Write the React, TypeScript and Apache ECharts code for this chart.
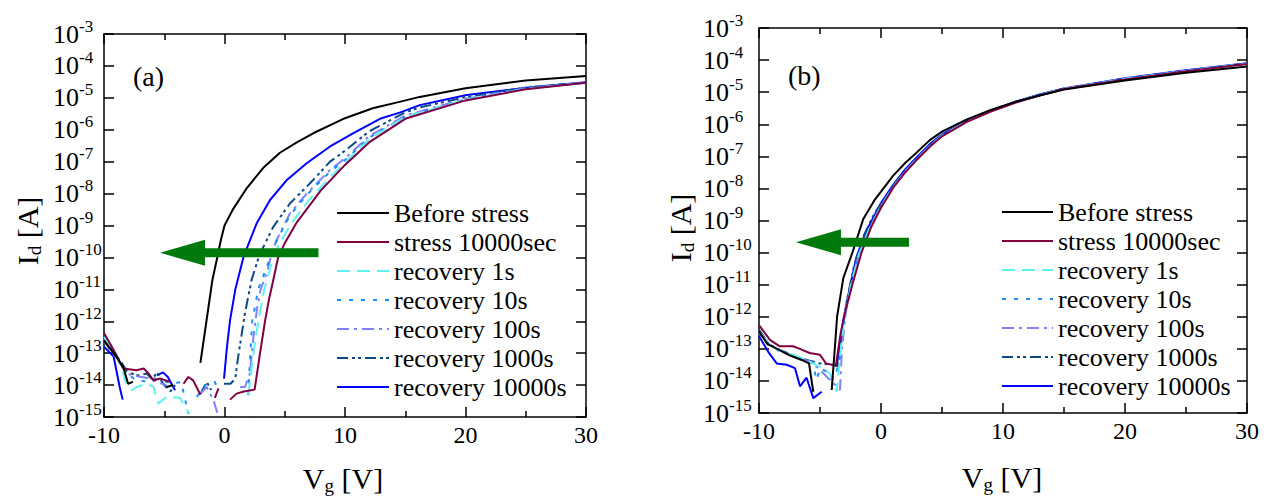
import React, { useEffect, useRef } from "react";
import * as echarts from "echarts";

type Pt = [number, number | null];

const FONT = "'Liberation Serif', 'Times New Roman', serif";

const seriesNames = [
  "Before stress",
  "stress 10000sec",
  "recovery 1s",
  "recovery 10s",
  "recovery 100s",
  "recovery 1000s",
  "recovery 10000s",
];
const seriesColors = ["#000000", "#800040", "#5ff2f2", "#1a8cff", "#8080ff", "#0d4a85", "#0000ff"];
const seriesDash: any[] = ["solid", "solid", [13, 7], [4, 8], [12, 5, 3, 5], [11, 4, 3, 3, 3, 4], "solid"];

const xTicks = { min: -10, max: 30, step: 10 };
const yRange = { min: 1e-15, max: 1e-3 };
// decade exponents used for the tick labels 10^n
const yExpTicks = { min: -15, max: -3, step: 1 };

// ---------- panel (a) ----------
const aBefore: Pt[] = [
  [-10, 2.5e-13], [-9.2, 1.0e-13], [-8.4, 3.7e-14], [-8.0, 1.1e-14], [-7.6, 1.26e-14], [-7.3, null],
  [-4.8, 8.7e-15], [-4.25, 1.0e-14], [-4.0, null],
  [-2.0, 5.0e-14], [-1.5, 1.0e-12], [-1.0, 2.0e-11], [-0.6, 1.0e-10], [-0.3, 3.5e-10], [0, 1.0e-9],
  [0.7, 3.2e-9], [1.8, 1.4e-8], [3.2, 6.3e-8], [4.6, 1.9e-7], [6.0, 4.0e-7], [7.4, 7.9e-7],
  [10, 2.3e-6], [12.3, 4.7e-6], [14.6, 7.6e-6], [16.2, 1.07e-5], [20, 2.0e-5], [25, 3.5e-5], [30, 4.8e-5],
];
const aStress: Pt[] = [
  [-10, 4.3e-13], [-9.2, 1.26e-13], [-8.4, 3.3e-14], [-7.3, 2.9e-14], [-6.7, 3.3e-14], [-6.3, 2.3e-14],
  [-5.9, 1.4e-14], [-5.35, 1.6e-14], [-4.5, 1.26e-14], [-4.0, null],
  [-3.4, 1.1e-14], [-3.0, 1.8e-14], [-2.6, 1.4e-14], [-2.0, 5.0e-15], [-1.5, null],
  [-0.8, 4.0e-15], [-0.5, 7.9e-15], [0, null],
  [0.46, 3.5e-15], [1.0, 5.4e-15], [1.6, 6.3e-15], [2.5, 7.2e-15], [2.95, 1.0e-13], [3.36, 1.0e-12],
  [3.7, 5.0e-12], [4.0, 1.6e-11], [4.45, 1.0e-10], [5.0, 2.8e-10], [6.0, 1.26e-9], [8.0, 1.26e-8],
  [10, 7.9e-8], [12, 4.0e-7], [15, 2.2e-6], [20, 8.3e-6], [25, 1.86e-5], [30, 2.95e-5],
];
const aRec1: Pt[] = [
  [-10, 3.2e-13], [-9.1, 1.26e-13], [-8.5, 3.2e-14], [-8.26, 1.4e-14], [-7.7, 6.9e-15], [-7.3, 8.7e-15],
  [-6.5, 1.1e-14], [-5.9, 9.0e-15], [-5.5, 2.6e-15], [-4.8, 4.3e-15], [-3.7, 4.0e-15], [-2.9, 1.26e-15], [-2.5, null],
  [1.98, 5.0e-15], [2.4, 1.0e-13], [2.8, 1.0e-12], [3.3, 1.0e-11], [4.05, 1.0e-10], [4.5, 2.5e-10],
  [5.5, 1.1e-9], [7.0, 6.3e-9], [9.0, 4.0e-8], [10, 9.5e-8], [12, 5.0e-7], [15, 2.5e-6], [20, 8.7e-6],
  [25, 1.9e-5], [30, 2.95e-5],
];
const aRec10: Pt[] = [
  [-10, 3.2e-13], [-8.95, 7.9e-14], [-8.1, 2.3e-14], [-7.3, 1.4e-14], [-6.5, 1.3e-14], [-5.8, 1.6e-14],
  [-4.25, 1.1e-14], [-3.6, 1.26e-14], [-3.0, 1.26e-15], [-2.6, null],
  [-2.3, 4.3e-15], [-1.5, 1.1e-14], [-0.8, 1.26e-14], [-0.5, 6.0e-15], [0, null],
  [1.98, 4.8e-15], [2.1, 5.0e-14], [2.3, 1.0e-12], [2.8, 1.0e-11], [3.8, 1.0e-10], [4.3, 3.2e-10],
  [5.4, 2.0e-9], [6.8, 8.9e-9], [8.8, 5.0e-8], [10, 1.12e-7], [12, 5.6e-7], [15, 2.6e-6], [20, 8.9e-6],
  [25, 1.95e-5], [30, 3.0e-5],
];
const aRec100: Pt[] = [
  [-10, 2.5e-13], [-8.95, 6.8e-14], [-8.1, 2.3e-14], [-7.5, 2.0e-14], [-6.2, 1.6e-14], [-5.5, 1.2e-14],
  [-4.8, 1.0e-14], [-4.3, null],
  [-2.0, 5.4e-15], [-1.48, 8.7e-15], [-0.9, 3.3e-15], [-0.5, 1.0e-15], [0, null],
  [1.3, 8.7e-15], [1.7, 8.7e-15], [2.1, 2.3e-14], [2.4, 3.2e-13], [2.7, 2.5e-12], [3.0, 1.0e-11],
  [3.5, 3.2e-11], [3.9, 1.26e-10], [4.33, 3.5e-10], [5.43, 2.4e-9], [6.82, 1.0e-8], [8.76, 5.5e-8],
  [10, 1.26e-7], [12, 6.3e-7], [15, 2.8e-6], [20, 9.3e-6], [25, 2.0e-5], [30, 3.0e-5],
];
const aRec1000: Pt[] = [
  [-10, 2.5e-13], [-9.5, 1.3e-13], [-8.7, 6.3e-14], [-8.1, 2.7e-14], [-7.3, 2.0e-14], [-6.45, 2.3e-14],
  [-6.0, 1.5e-14], [-5.6, 2.5e-14], [-5.1, 1.1e-14], [-4.5, 6.3e-15], [-4.1, 1.0e-14], [-3.8, null],
  [-2.0, 5.2e-15], [-1.48, 1.26e-14], [-1.1, 7.0e-15], [-0.8, null],
  [-0.04, 1.1e-14], [0.5, 1.1e-14], [0.9, 1.6e-14], [1.1, 6.3e-14], [1.7, 1.8e-12], [2.25, 2.0e-11],
  [2.9, 1.2e-10], [4.05, 9.1e-10], [5.43, 4.9e-9], [7.1, 2.1e-8], [8.76, 1.0e-7], [10, 2.2e-7],
  [12, 8.9e-7], [15, 3.5e-6], [16.2, 5.0e-6], [20, 1.05e-5], [25, 2.1e-5], [30, 3.0e-5],
];
const aRec10000: Pt[] = [
  [-10, 1.6e-13], [-9.2, 7.9e-14], [-8.7, 8.7e-15], [-8.45, 3.5e-15], [-8.0, null],
  [-5.6, 2.0e-14], [-5.1, 2.5e-14], [-4.7, 1.8e-14], [-4.1, 6.9e-15], [-3.5, null],
  [-0.04, 1.6e-14], [0.2, 1.5e-13], [0.46, 1.07e-12], [0.9, 1.0e-11], [1.6, 1.1e-10], [2.67, 1.17e-9],
  [3.78, 6.3e-9], [5.15, 2.6e-8], [6.82, 8.9e-8], [8.76, 3.0e-7], [10.7, 7.8e-7], [12.9, 2.2e-6],
  [14.6, 3.5e-6], [16.2, 5.9e-6], [20.1, 1.23e-5], [25.6, 2.2e-5], [30, 3.1e-5],
];

// ---------- panel (b) ----------
const bBefore: Pt[] = [
  [-10, 3.5e-13], [-9.3, 1.4e-13], [-8.5, 1.0e-13], [-7.5, 6.3e-14], [-6.5, 4.5e-14], [-5.9, 3.5e-14],
  [-5.55, 4.6e-15], [-5.3, null],
  [-4.04, 5.2e-15], [-3.75, 1.6e-13], [-3.6, 1.0e-12], [-3.09, 1.6e-11], [-2.3, 1.12e-10], [-1.45, 1.12e-9],
  [-0.5, 4.5e-9], [0, 7.9e-9], [1, 2.5e-8], [2, 6.3e-8], [3, 1.4e-7], [4, 3.2e-7], [5, 5.9e-7], [7, 1.4e-6],
  [9, 2.8e-6], [11, 5.0e-6], [13, 7.9e-6], [15, 1.2e-5], [20, 2.3e-5], [25, 4.0e-5], [30, 6.3e-5],
];
const bStress: Pt[] = [
  [-10, 5.5e-13], [-9.1, 1.9e-13], [-8.3, 1.2e-13], [-7.2, 1.2e-13], [-6.65, 1.0e-13], [-5.85, 7.4e-14],
  [-5.0, 6.5e-14], [-4.5, 3.5e-14], [-3.7, 3.0e-14], [-3.3, 3.2e-13], [-2.9, 1.6e-12], [-2.35, 1.0e-11],
  [-1.6, 1.0e-10], [-0.8, 6.3e-10], [0, 2.5e-9], [1, 1.05e-8], [2, 3.2e-8], [3, 8.3e-8], [4, 2.0e-7],
  [5, 4.2e-7], [7, 1.17e-6], [9, 2.5e-6], [11, 4.7e-6], [13, 7.9e-6], [15, 1.26e-5], [20, 2.5e-5],
  [25, 4.5e-5], [30, 7.6e-5],
];
const bRec1: Pt[] = [
  [-10, 3.5e-13], [-9.2, 1.4e-13], [-8.3, 9.0e-14], [-7.2, 6.5e-14], [-6.1, 4.5e-14], [-5.0, 2.75e-14],
  [-4.18, 1.7e-14], [-3.63, 4.6e-15], [-3.4, 4.0e-14], [-3.0, 1.0e-12], [-2.45, 1.0e-11], [-1.85, 7.9e-11],
  [-1.0, 5.0e-10], [0, 2.8e-9], [1, 1.1e-8], [2, 3.4e-8], [3, 8.7e-8], [4, 2.1e-7], [5, 4.4e-7],
  [7, 1.2e-6], [9, 2.6e-6], [11, 4.8e-6], [13, 8.1e-6], [15, 1.28e-5], [20, 2.6e-5], [25, 4.6e-5], [30, 7.7e-5],
];
const bRec10: Pt[] = [
  [-10, 3.2e-13], [-9.2, 1.3e-13], [-8.3, 8.5e-14], [-7.2, 6.0e-14], [-6.1, 4.2e-14], [-5.6, 3.5e-14],
  [-5.27, 1.07e-14], [-5.0, 2.5e-14], [-4.5, 2.0e-14], [-4.0, 1.07e-14], [-3.7, 1.5e-14], [-3.4, 5.0e-14],
  [-3.0, 1.1e-12], [-2.45, 1.1e-11], [-1.85, 8.5e-11], [-1.0, 5.2e-10], [0, 2.9e-9], [1, 1.1e-8],
  [2, 3.5e-8], [3, 8.8e-8], [4, 2.1e-7], [5, 4.4e-7], [7, 1.2e-6], [9, 2.6e-6], [11, 4.8e-6],
  [13, 8.2e-6], [15, 1.29e-5], [20, 2.6e-5], [25, 4.7e-5], [30, 7.8e-5],
];
const bRec100: Pt[] = [
  [-10, 3.2e-13], [-9.0, 1.3e-13], [-8.0, 8.0e-14], [-7.0, 5.5e-14], [-5.8, 4.0e-14], [-5.0, 2.2e-14],
  [-4.18, 1.07e-14], [-3.63, 6.8e-15], [-3.36, 5.2e-15], [-3.2, 1.0e-13], [-2.9, 1.26e-12], [-2.4, 1.1e-11],
  [-1.85, 8.0e-11], [-1.0, 5.0e-10], [0, 2.8e-9], [1, 1.1e-8], [2, 3.4e-8], [3, 8.7e-8], [4, 2.1e-7],
  [5, 4.4e-7], [7, 1.2e-6], [9, 2.6e-6], [11, 4.8e-6], [13, 8.1e-6], [15, 1.28e-5], [20, 2.6e-5],
  [25, 4.6e-5], [30, 7.7e-5],
];
const bRec1000: Pt[] = [
  [-10, 4.0e-13], [-9.2, 1.4e-13], [-8.28, 9.1e-14], [-7.2, 6.3e-14], [-6.1, 4.5e-14], [-5.0, 3.5e-14],
  [-3.9, 3.2e-14], [-3.5, 2.8e-14], [-3.2, 2.5e-13], [-2.8, 3.2e-12], [-2.2, 4.0e-11], [-1.4, 3.5e-10],
  [-0.5, 1.8e-9], [0, 3.2e-9], [1, 1.2e-8], [2, 3.6e-8], [3, 9.1e-8], [4, 2.2e-7], [5, 4.5e-7],
  [7, 1.2e-6], [9, 2.6e-6], [11, 4.9e-6], [13, 8.3e-6], [15, 1.3e-5], [20, 2.6e-5], [25, 4.7e-5], [30, 7.8e-5],
];
const bRec10000: Pt[] = [
  [-10, 2.5e-13], [-9.23, 7.9e-14], [-8.55, 3.5e-14], [-7.73, 3.2e-14], [-7.05, 2.5e-14], [-6.64, 6.8e-15],
  [-6.1, 1.26e-14], [-5.55, 2.9e-15], [-4.86, 4.6e-15], [-4.6, null],
  [-3.63, 2.75e-14], [-3.09, 7.9e-13], [-2.54, 8.7e-12], [-2.0, 7.4e-11], [-1.17, 5.0e-10], [0, 3.5e-9],
  [1, 1.3e-8], [2, 4.0e-8], [3, 1.0e-7], [4, 2.4e-7], [5, 4.8e-7], [7, 1.26e-6], [9, 2.7e-6], [11, 5.0e-6],
  [13, 8.5e-6], [15, 1.3e-5], [20, 2.7e-5], [25, 4.8e-5], [30, 7.9e-5],
];

const panelA = [aBefore, aStress, aRec1, aRec10, aRec100, aRec1000, aRec10000];
const panelB = [bBefore, bStress, bRec1, bRec10, bRec100, bRec1000, bRec10000];

// arrows (data coordinates: tail V, tip V, current level)
const arrowA = { tailV: 7.8, tipV: -5.35, current: 1.4e-10 };
const arrowB = { tailV: 2.3, tipV: -6.97, current: 2.1e-10 };

const grids = [
  { left: 104, top: 34, width: 482, height: 383 },
  { left: 759, top: 28, width: 488, height: 385 },
];

const axisLineStyle = { color: "#000", width: 1.5 };

function makeX(gridIndex: number, position: "bottom" | "top") {
  return {
    gridIndex,
    type: "value",
    min: xTicks.min,
    max: xTicks.max,
    interval: xTicks.step,
    position,
    axisLine: { show: true, onZero: false, lineStyle: axisLineStyle },
    axisTick: { show: true, inside: true, length: 10, lineStyle: axisLineStyle },
    minorTick: { show: true, splitNumber: 2, length: 6, lineStyle: axisLineStyle },
    splitLine: { show: false },
    minorSplitLine: { show: false },
    axisLabel: {
      show: position === "bottom",
      margin: 6,
      fontSize: 24,
      fontFamily: FONT,
      color: "#000",
    },
  };
}

// log axis that carries the data (drawn invisibly; decade ticks come from the companion axes)
function makeLogY(gridIndex: number) {
  return {
    gridIndex,
    type: "log",
    logBase: 10,
    min: yRange.min,
    max: yRange.max,
    position: "left",
    show: false,
  };
}

// decade tick / label axis in exponent units, sharing the same pixel span
function makeDecadeY(gridIndex: number, position: "left" | "right", margin: number) {
  return {
    gridIndex,
    type: "value",
    min: yExpTicks.min,
    max: yExpTicks.max,
    interval: yExpTicks.step,
    position,
    axisLine: { show: true, onZero: false, lineStyle: axisLineStyle },
    axisTick: { show: true, inside: true, length: 10, lineStyle: axisLineStyle },
    splitLine: { show: false },
    axisLabel: {
      show: position === "left",
      align: "left",
      margin,
      formatter: (v: number) => `{b|10}{e|${v}}`,
      rich: {
        b: { fontSize: 26, fontFamily: FONT, color: "#000" },
        e: { fontSize: 17, fontFamily: FONT, color: "#000", padding: [0, 0, 16, 0] },
      },
    },
  };
}

function makeLegend(left: number, top: number, itemWidth: number) {
  return {
    data: seriesNames,
    orient: "vertical",
    left,
    top,
    padding: 0,
    itemWidth,
    itemHeight: 14,
    itemGap: 3,
    selectedMode: false,
    itemStyle: { opacity: 0 },
    textStyle: { fontSize: 26, fontFamily: FONT, color: "#000" },
  };
}

const titleRich = {
  n: { fontSize: 30, fontFamily: FONT, color: "#000" },
  s: { fontSize: 19, fontFamily: FONT, color: "#000", padding: [14, 0, 0, 0] },
};

export default function App() {
  const ref = useRef<HTMLDivElement>(null);

  useEffect(() => {
    document.body.style.margin = "0";
    if (!ref.current) return;
    const chart = echarts.init(ref.current, undefined, { renderer: "svg" });

    const series: any[] = [];
    [panelA, panelB].forEach((panel, pi) => {
      panel.forEach((data, i) => {
        series.push({
          name: seriesNames[i],
          type: "line",
          xAxisIndex: pi * 2,
          yAxisIndex: pi * 3,
          data,
          symbol: "none",
          connectNulls: false,
          z: 10 - i,
          itemStyle: { color: seriesColors[i] },
          lineStyle: { color: seriesColors[i], width: 2, type: seriesDash[i] },
        });
      });
    });

    chart.setOption({
      animation: false,
      backgroundColor: "#fff",
      grid: grids.map((g) => ({ ...g, containLabel: false })),
      xAxis: [makeX(0, "bottom"), makeX(0, "top"), makeX(1, "bottom"), makeX(1, "top")],
      yAxis: [
        makeLogY(0), makeDecadeY(0, "left", 51), makeDecadeY(0, "right", 0),
        makeLogY(1), makeDecadeY(1, "left", 56), makeDecadeY(1, "right", 0),
      ],
      legend: [makeLegend(336, 200, 52), makeLegend(1001, 199, 51)],
      series,
    });

    const arrowShape = (xIdx: number, yIdx: number, a: { tailV: number; tipV: number; current: number }) => {
      const finder = { xAxisIndex: xIdx, yAxisIndex: yIdx } as any;
      const tail = chart.convertToPixel(finder, [a.tailV, a.current]) as number[];
      const tip = chart.convertToPixel(finder, [a.tipV, a.current]) as number[];
      const yc = tip[1];
      const headLen = 45;
      const headHalf = 13;
      const shaftHalf = 4.5;
      return {
        type: "polygon",
        shape: {
          points: [
            [tip[0], yc],
            [tip[0] + headLen, yc - headHalf],
            [tip[0] + headLen, yc - shaftHalf],
            [tail[0], yc - shaftHalf],
            [tail[0], yc + shaftHalf],
            [tip[0] + headLen, yc + shaftHalf],
            [tip[0] + headLen, yc + headHalf],
          ],
        },
        style: { fill: "#007a0c" },
        z: 100,
      };
    };

    chart.setOption({
      graphic: [
        arrowShape(0, 0, arrowA),
        arrowShape(2, 3, arrowB),
        { type: "text", x: 133, y: 76, style: { text: "(a)", font: `28px ${FONT}`, fill: "#000", verticalAlign: "middle" } },
        { type: "text", x: 788, y: 75, style: { text: "(b)", font: `28px ${FONT}`, fill: "#000", verticalAlign: "middle" } },
        {
          type: "text", x: 27, y: 231, rotation: Math.PI / 2,
          style: { text: "{n|I}{s|d}{n| [A]}", rich: titleRich, align: "center", verticalAlign: "middle" },
        },
        {
          type: "text", x: 680, y: 228, rotation: Math.PI / 2,
          style: { text: "{n|I}{s|d}{n| [A]}", rich: titleRich, align: "center", verticalAlign: "middle" },
        },
        {
          type: "text", x: 343, y: 478,
          style: { text: "{n|V}{s|g}{n| [V]}", rich: titleRich, align: "center", verticalAlign: "middle" },
        },
        {
          type: "text", x: 1002, y: 477,
          style: { text: "{n|V}{s|g}{n| [V]}", rich: titleRich, align: "center", verticalAlign: "middle" },
        },
      ],
    });

    return () => chart.dispose();
  }, []);

  return <div ref={ref} style={{ width: 1277, height: 499 }} />;
}
